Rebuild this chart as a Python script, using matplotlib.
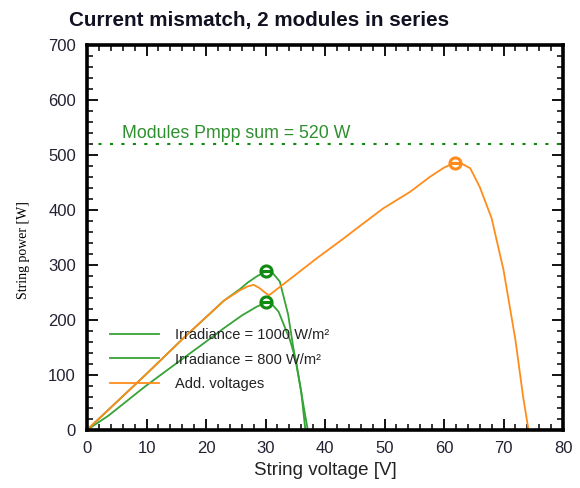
import numpy as np
import matplotlib
matplotlib.use("Agg")
import matplotlib.pyplot as plt
from matplotlib.ticker import MultipleLocator

# P-V points of each module and of the series string (V, W)
v_1000 = [0, 5, 10, 16.5, 20, 23, 25.7, 27, 28.5, 30.1, 31, 32.4, 33.8, 34.7, 35.5, 36.3, 37.1]
p_1000 = [0, 51, 102, 170, 205, 235, 256, 268, 279, 289, 288, 270, 210, 148, 100, 50, 0]

v_800 = [0, 3.6, 9.75, 15, 19.3, 23, 26, 28.5, 30.1, 31, 32.2, 34.1, 35.1, 36, 36.7]
p_800 = [0, 26, 79, 121, 155, 185, 208, 224, 232, 230, 215, 164, 127, 70, 0]

v_sum = [0, 5, 10, 16.5, 20, 23, 25.7, 27, 28, 29, 30, 30.6, 33, 35.5, 38.6, 43.1, 46,
         49.8, 54.3, 57.6, 60, 61.8, 63, 64.4, 66, 68, 70, 72, 73.3, 74.2]
p_sum = [0, 51, 102, 170, 205, 235, 254, 261, 264, 258, 249, 245, 265, 286, 312, 348, 372,
         403, 433, 460, 477, 486, 484, 476, 442, 385, 291, 164, 60, 0]

# maximum power points
mpp_1000 = (30.1, 289)
mpp_800 = (30.1, 232)
mpp_sum = (61.8, 486)
pmpp_sum = 520

labels = ["Irradiance = 1000 W/m²", "Irradiance = 800 W/m²", "Add. voltages"]

green = "#36a336"
green_dark = "#118a11"
orange = "#ff8c1a"

plt.rcParams["font.family"] = ["Liberation Sans", "DejaVu Sans"]

fig = plt.figure(figsize=(5.8, 4.88), dpi=100)
ax = fig.add_axes([0.15, 0.1189, 0.8207, 0.7889])

ax.plot(v_1000, p_1000, color=green, lw=1.3, label=labels[0])
ax.plot(v_800, p_800, color=green, lw=1.3, label=labels[1])
ax.plot(v_sum, p_sum, color=orange, lw=1.3, label=labels[2])

def mpp_marker(pt, col):
    ax.plot(*pt, marker="o", ms=8, mfc="none", mec=col, mew=2.2, zorder=5)
    ax.plot(*pt, marker="_", ms=8, mec=col, mew=2.2, zorder=5)

mpp_marker(mpp_1000, green_dark)
mpp_marker(mpp_800, green_dark)
mpp_marker(mpp_sum, orange)

ax.axhline(pmpp_sum, color=green_dark, ls=(0, (1.5, 4)), lw=1.5)
ax.text(5.9, pmpp_sum + 3, "Modules Pmpp sum = %d W" % pmpp_sum, color="#2e8f2e",
        fontsize=12.8, va="bottom", ha="left")

ax.set_xlim(0, 80)
ax.set_ylim(0, 700)
ax.xaxis.set_major_locator(MultipleLocator(10))
ax.xaxis.set_minor_locator(MultipleLocator(2))
ax.yaxis.set_major_locator(MultipleLocator(100))
ax.yaxis.set_minor_locator(MultipleLocator(20))
ax.tick_params(which="both", direction="in", top=True, right=True, labelsize=12,
               colors="black", labelcolor="#222233")
ax.tick_params(which="major", length=8, width=1.3, pad=8)
ax.tick_params(which="minor", length=4, width=1.1)
for s in ax.spines.values():
    s.set_linewidth(2.6)

ax.set_xlabel("String voltage [V]", fontsize=13.5, labelpad=4, color="#222222")
fig.text(0.04, 0.488, "String power [W]", rotation=90, fontsize=10,
         family="Liberation Serif", ha="center", va="center")

fig.text(0.447, 0.959, "Current mismatch, 2 modules in series", fontsize=14.9,
         fontweight="bold", color="#111122", ha="center", va="center")

leg = ax.legend(loc="upper left", bbox_to_anchor=(0.048, 0.264), frameon=False, fontsize=10.5,
                handlelength=3.4, handletextpad=1.05, labelspacing=0.7, borderpad=0,
                borderaxespad=0)
for t in leg.get_texts():
    t.set_color("#222222")

fig.savefig("out.png", dpi=100)
